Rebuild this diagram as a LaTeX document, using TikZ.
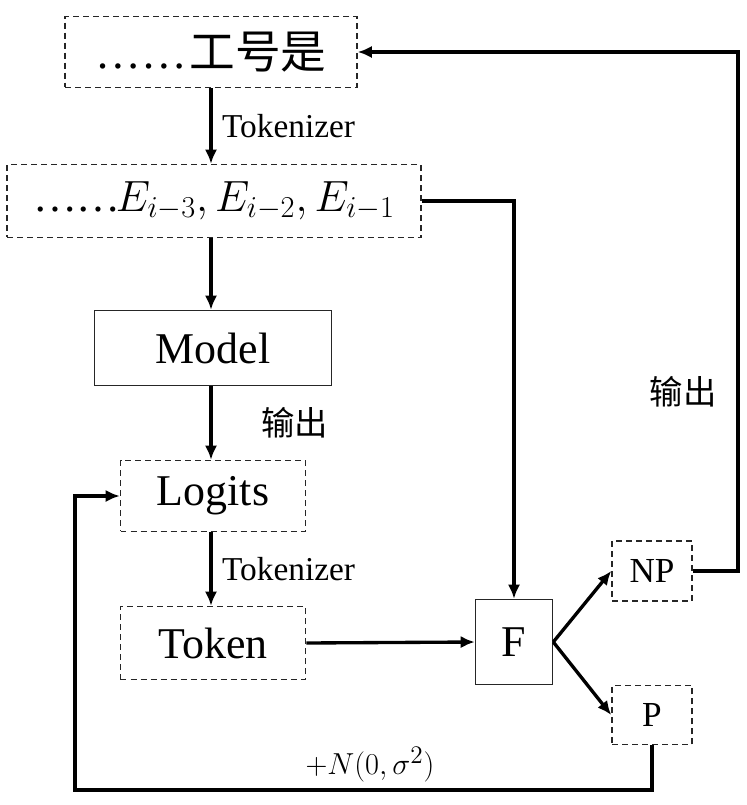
\documentclass[tikz,border=0pt]{standalone}
\usepackage{fontspec}
\usepackage{amsmath}
\setmainfont{Liberation Serif}
\newfontfamily\cjk{Noto Sans CJK SC}
\usetikzlibrary{arrows.meta}

\begin{document}
\begin{tikzpicture}[x=0.02cm, y=-0.02cm,
                    box/.style={draw=black!85, line width=0.9pt, inner sep=0pt,
                                font=\fontsize{25}{30}\selectfont},
                    dbox/.style={box, dash pattern=on 3.4pt off 2.3pt},
                    small/.style={font=\fontsize{19}{23}\selectfont},
                    arr/.style={line width=1.9pt, -{Latex[length=8pt, width=7pt]}}]
  \useasboundingbox (0,0) rectangle (747,805);
  \node[dbox, minimum width=5.84cm, minimum height=1.42cm] (text) at (211,52)
    {\fontsize{26}{30}\selectfont……\hspace{0.05cm}{\cjk 工号是}\hspace{1.1cm}};
  \node[dbox, minimum width=8.28cm, minimum height=1.46cm] (emb) at (214,201)
    {……\hspace{-0.1cm}$E_{i-3},E_{i-2},E_{i-1}$};
  \node[box, minimum width=4.74cm, minimum height=1.5cm] (model) at (213,348) {Model};
  \node[dbox, minimum width=3.7cm, minimum height=1.42cm] (logits) at (213,496) {Logits};
  \node[dbox, minimum width=3.7cm, minimum height=1.46cm] (token) at (213,643) {Token};
  \node[box, minimum width=1.54cm, minimum height=1.7cm] (f) at (514,642) {F};
  \node[dbox, font=\fontsize{20}{24}\selectfont,
        minimum width=1.6cm, minimum height=1.2cm] (np) at (652,571) {NP};
  \node[dbox, font=\fontsize{20}{24}\selectfont,
        minimum width=1.6cm, minimum height=1.18cm] (p) at (652,715) {P};
  \coordinate (rx) at (738,0);
  \coordinate (lx) at (75,790);

  \draw[arr] (text.south -| 211,0) -- (emb.north -| 211,0)
    node[midway, right=2pt, small] {Tokenizer};
  \draw[arr] (emb.south -| 211,0) -- (model.north -| 211,0);
  \draw[arr] (model.south -| 211,0) -- (logits.north -| 211,0)
    node[midway, right=0.85cm, small] {\cjk 输出};
  \draw[arr] (logits.south -| 211,0) -- (token.north -| 211,0)
    node[midway, right=2pt, small] {Tokenizer};
  \draw[arr] (token.east) -- (f.west);
  \draw[arr] (emb.east) -| (f.north);
  \draw[arr] (f.east) -- (np.west);
  \draw[arr] (f.east) -- (p.west);
  \draw[arr] (np.east) -- (np.east -| rx) |- (text.east);
  \node[small] (outlbl) at (683,392) {\cjk 输出};
  \draw[arr] (p.south) |- (lx) |- (logits.west);
  \node[small] (noise) at (370,765) {$+N(0,\sigma^2)$};
\end{tikzpicture}
\end{document}
